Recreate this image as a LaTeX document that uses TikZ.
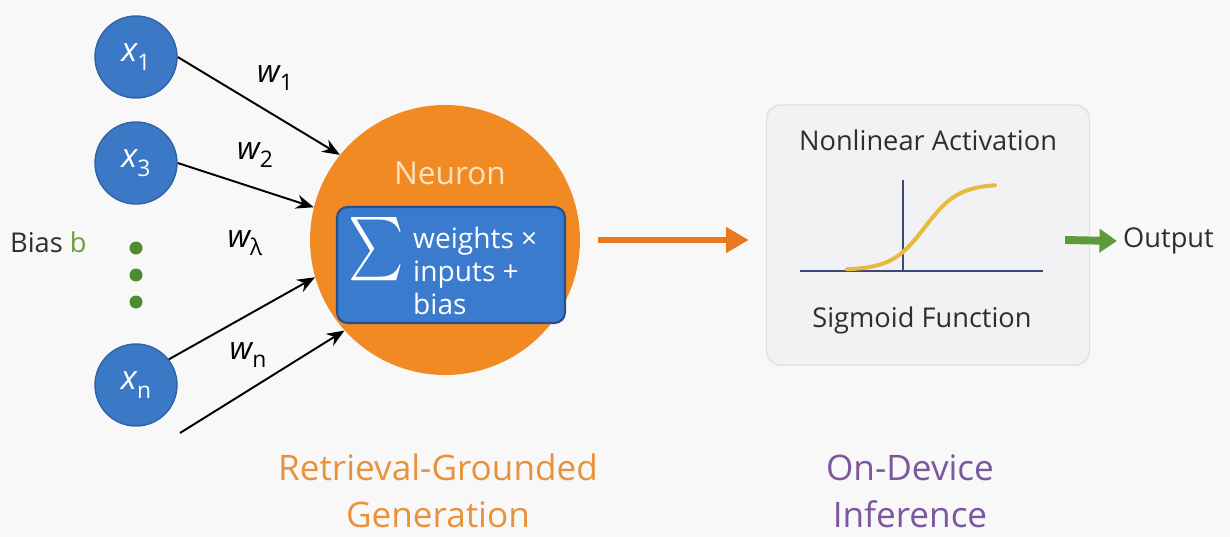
\documentclass[tikz,border=0pt]{standalone}
\usepackage{fontspec}
\setmainfont{Open Sans}
\usetikzlibrary{arrows.meta,positioning,calc}
\definecolor{PageBg}{HTML}{F8F8F9}
\definecolor{InputBlue}{HTML}{3B79C6}
\definecolor{InputEdge}{HTML}{2F63A6}
\definecolor{NeuronOrange}{HTML}{F28A24}
\definecolor{NeuronText}{HTML}{FCE4BE}
\definecolor{SumBlue}{HTML}{3A7BCE}
\definecolor{SumEdge}{HTML}{27518C}
\definecolor{DotGreen}{HTML}{4E8A2E}
\definecolor{BiasGreen}{HTML}{6A9E3C}
\definecolor{BoxFill}{HTML}{F2F2F4}
\definecolor{BoxEdge}{HTML}{E0E0E3}
\definecolor{AxisBlue}{HTML}{3B4A78}
\definecolor{SigYellow}{HTML}{E9BA42}
\definecolor{ArrowOrange}{HTML}{E8791E}
\definecolor{ArrowGreen}{HTML}{5E9A3C}
\definecolor{RagOrange}{HTML}{E9923A}
\definecolor{DevPurple}{HTML}{7D569E}
\definecolor{TextGray}{HTML}{2E2E2E}

\newcommand{\subvar}[2]{{\itshape #1}\raisebox{-0.5ex}{\fontsize{13}{13}\selectfont #2}}

\begin{document}
\begin{tikzpicture}[x=0.02cm,y=-0.02cm,
  inp/.style={circle,fill=InputBlue,draw=InputEdge,line width=0.8pt,minimum size=1.64cm,inner sep=0pt,text=white,font=\fontsize{19}{19}\selectfont},
  wlab/.style={text=black,font=\fontsize{18}{18}\selectfont},
  conn/.style={-{Stealth[length=10pt,width=8pt]},line width=1.1pt},
  txt/.style={text=TextGray,font=\fontsize{15.5}{15.5}\selectfont}]
  \fill[PageBg] (0,0) rectangle (1230,537);
  \useasboundingbox (0,0) rectangle (1230,537);

  % inputs
  \node[inp] (x1) at (136,57) {\subvar{x}{1}};
  \node[inp] (x3) at (136,163) {\subvar{x}{3}};
  \node[inp] (xn) at (136,385) {\subvar{x}{n}};
  \foreach \y in {248,275,302}
    \fill[DotGreen] (136,\y) circle (0.13cm);
  \node[txt,anchor=west] (bias) at (4,242) {Bias \textcolor{BiasGreen}{b}};
  \coordinate (xtail) at (180,433);

  % neuron
  \node[circle,fill=NeuronOrange,minimum size=5.4cm] (neuron) at (445,240) {};
  \node[text=NeuronText,font=\fontsize{18}{18}\selectfont] (ntitle) at (450,173) {Neuron};
  \node[rounded corners=6pt,fill=SumBlue,draw=SumEdge,line width=1.2pt,
    minimum width=4.56cm,minimum height=2.32cm] (sumbox) at (451,265) {};
  \node[text=white,inner sep=0pt] (sigma) at (376,249) {\scalebox{3}[3.6]{$\sum$}};
  \node[text=white,anchor=west,align=left,font=\fontsize{16}{19}\selectfont] (sumtext) at (407,271)
    {weights ×\\inputs +\\bias};

  % weighted inputs
  \draw[conn] (x1.east) -- (neuron.141);
  \draw[conn] (x3.east) -- (neuron.166);
  \draw[conn] (xn.38) -- (neuron.196);
  \draw[conn] (xtail) -- (neuron.222);
  \node[wlab] (w1) at (275,78) {\subvar{w}{1}};
  \node[wlab] (w2) at (255,155) {\subvar{w}{2}};
  \node[wlab] (w3) at (245,243) {\subvar{w}{λ}};
  \node[wlab] (wn) at (248,355) {\subvar{w}{n}};

  % activation
  \node[draw=BoxEdge,fill=BoxFill,rounded corners=8pt,line width=0.8pt,
    minimum width=6.46cm,minimum height=5.2cm] (actbox) at (928,235) {};
  \node[txt] (acttitle) at (928,140) {Nonlinear Activation};
  \draw[AxisBlue,line width=1.5pt] (800,271) -- (1043,271);
  \draw[AxisBlue,line width=1.5pt] (903,180) -- (903,271);
  \draw[SigYellow,line width=2.3pt,line cap=round]
    plot[domain=847:995,samples=60,smooth] (\x,{270-86/(1+exp(-0.06*(\x-925)))});
  \node[txt] (actname) at (922,320) {Sigmoid Function};
  \draw[ArrowOrange,line width=3.4pt,-{Triangle[length=13pt,width=14pt]},shorten <=0.36cm,shorten >=0.34cm]
    (neuron.east) -- (neuron.east -| actbox.west);

  % output
  \node[txt,anchor=west] (output) at (1117,241) {Output};
  \draw[ArrowGreen,line width=4.5pt,-{Triangle[length=10pt,width=13pt]}]
    ($(actbox.east)+(-25,5)$) -- (output.west);

  % captions
  \node[text=RagOrange,align=center,font=\fontsize{20}{27}\selectfont] (rag) at (438,491)
    {Retrieval-Grounded\\Generation};
  \node[text=DevPurple,align=center,font=\fontsize{20}{27}\selectfont] (ondev) at (910,491)
    {On-Device\\Inference};
\end{tikzpicture}
\end{document}
